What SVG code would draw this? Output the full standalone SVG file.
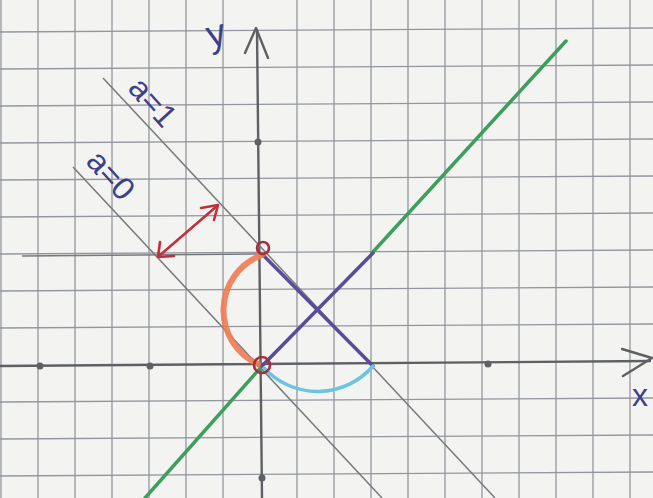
<svg xmlns="http://www.w3.org/2000/svg" width="653" height="498" viewBox="0 0 653 498">
<style>
.grid line{stroke:#93979d;stroke-width:1.3}
.axis{stroke:#5e6064;stroke-width:2.4;fill:none;stroke-linecap:round;stroke-linejoin:round}
.pencil{stroke:#77797c;stroke-width:1.5;fill:none}
.lbl{font-family:"Liberation Sans",Arial,sans-serif;fill:#3c3f8c}
.dot{fill:#5e6064}
</style>
<rect width="653" height="498" fill="#f3f3f1"/>
<g class="grid">
<line x1="1" y1="0" x2="1" y2="498"/><line x1="38" y1="0" x2="38" y2="498"/><line x1="75" y1="0" x2="75" y2="498"/><line x1="112" y1="0" x2="112" y2="498"/><line x1="149" y1="0" x2="149" y2="498"/><line x1="186" y1="0" x2="186" y2="498"/><line x1="223" y1="0" x2="223" y2="498"/><line x1="297" y1="0" x2="297" y2="498"/><line x1="334" y1="0" x2="334" y2="498"/><line x1="371" y1="0" x2="371" y2="498"/><line x1="408" y1="0" x2="408" y2="498"/><line x1="445" y1="0" x2="445" y2="498"/><line x1="482" y1="0" x2="482" y2="498"/><line x1="519" y1="0" x2="519" y2="498"/><line x1="556" y1="0" x2="556" y2="498"/><line x1="593" y1="0" x2="593" y2="498"/><line x1="630" y1="0" x2="630" y2="498"/>
<line x1="0" y1="32" x2="653" y2="28"/><line x1="0" y1="69" x2="653" y2="65"/><line x1="0" y1="106" x2="653" y2="102"/><line x1="0" y1="143" x2="653" y2="139"/><line x1="0" y1="180" x2="653" y2="176"/><line x1="0" y1="217" x2="653" y2="213"/><line x1="0" y1="254" x2="653" y2="250"/><line x1="0" y1="291" x2="653" y2="287"/><line x1="0" y1="328" x2="653" y2="324"/><line x1="0" y1="402" x2="653" y2="398"/><line x1="0" y1="439" x2="653" y2="435"/><line x1="0" y1="476" x2="653" y2="472"/>
</g>
<g id="axes">
<line class="axis" x1="0" y1="366" x2="650" y2="361"/>
<polyline class="axis" points="622,349 652,358 623,376"/>
<line class="axis" x1="262" y1="498" x2="257" y2="30"/>
<polyline class="axis" points="245,53 256,28 268,58"/>
<circle class="dot" cx="40" cy="366" r="3.5"/>
<circle class="dot" cx="150" cy="366" r="3.5"/>
<circle class="dot" cx="488" cy="364" r="3.5"/>
<circle class="dot" cx="258" cy="142" r="3.5"/>
<circle class="dot" cx="262" cy="478" r="3.5"/>
<text class="lbl" x="640" y="406" font-size="32" text-anchor="middle">x</text>
<text class="lbl" x="216" y="46" font-size="38" text-anchor="middle" transform="rotate(-15 216 34)">y</text>
</g>
<g id="level-lines">
<line class="pencil" x1="73" y1="167" x2="382" y2="498"/>
<line class="pencil" x1="103" y1="78" x2="495" y2="498"/>
<line class="pencil" x1="22" y1="256" x2="262" y2="254" stroke="#6a6c70" stroke-width="1.8"/>
<text class="lbl" x="153" y="113" font-size="32" text-anchor="middle" transform="rotate(48 153 102)">a=1</text>
<text class="lbl" x="111" y="186" font-size="32" text-anchor="middle" transform="rotate(48 111 175)">a=0</text>
</g>
<g id="shift-arrow" stroke="#c2303c" stroke-width="2.6" fill="none" stroke-linecap="round" stroke-linejoin="round">
<line x1="159" y1="256" x2="217" y2="206"/>
<polyline points="160,242 158,257 174,256"/>
<polyline points="201,208 218,205 214,220"/>
</g>
<g id="green-line" stroke="#3e9e5c" stroke-width="3.5" stroke-linecap="round">
<line x1="145" y1="498" x2="262" y2="366"/>
<line x1="372" y1="253" x2="566" y2="41"/>
</g>
<g id="purple-x" stroke="#5a4c98" stroke-width="3.5" stroke-linecap="round">
<line x1="262" y1="254" x2="373" y2="366"/>
<line x1="262" y1="366" x2="373" y2="253"/>
</g>
<g id="orange-arc">
<path d="M262 255 A59 59 0 0 0 258 364" stroke="#f07a52" stroke-width="6" fill="none" stroke-linecap="round" opacity="0.9"/>
</g>
<g id="blue-arc">
<path d="M264 368 A73 73 0 0 0 373 366" stroke="#6cc3e2" stroke-width="3.5" fill="none" stroke-linecap="round"/>
</g>
<g id="points" stroke="#a2303e" stroke-width="2.6" fill="none">
<circle cx="263" cy="248" r="6"/>
<circle cx="262" cy="365" r="8"/>
</g>
</svg>
